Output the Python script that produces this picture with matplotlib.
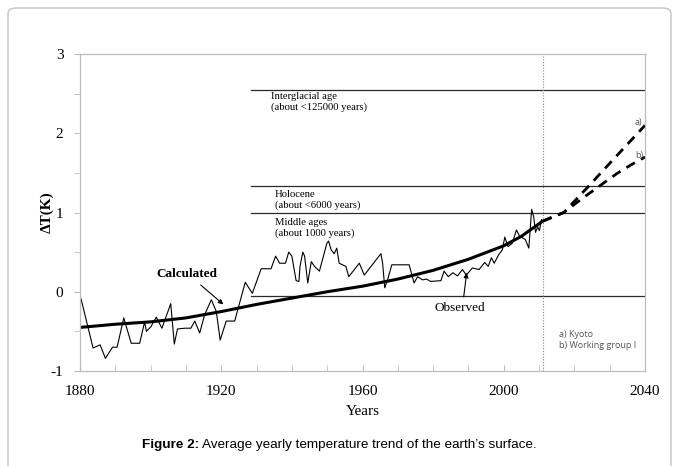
import matplotlib
matplotlib.use('Agg')
import matplotlib.pyplot as plt
from matplotlib.patches import FancyBboxPatch
from matplotlib.ticker import MultipleLocator

plt.rcParams['axes.unicode_minus'] = False

# observed yearly temperature deviation
obs_year = [1880.3, 1883.7, 1885.7, 1887.2, 1889.2, 1890.5, 1892.4, 1894.5, 1896.9, 1898.3,
            1898.8, 1900.1, 1901.6, 1903.2, 1905.7, 1906.7, 1907.6, 1909.7, 1911.4, 1912.5,
            1913.9, 1915.3, 1917.2, 1918.6, 1919.7, 1921.4, 1923.8, 1926.8, 1928.8, 1931.3,
            1934.1, 1935.4, 1936.5, 1938.2, 1939.1, 1940.0, 1941.2, 1942.0, 1942.3, 1943.1,
            1943.6, 1944.5, 1945.5, 1946.4, 1947.8, 1949.9, 1950.4, 1951.1, 1952.0, 1952.7,
            1953.4, 1955.3, 1956.1, 1959.1, 1960.5, 1965.2, 1965.7, 1966.3, 1967.1, 1968.3,
            1973.2, 1973.7, 1974.6, 1975.6, 1977.0, 1978.1, 1979.3, 1982.2, 1983.1, 1984.3,
            1985.6, 1986.9, 1988.3, 1989.4, 1991.1, 1993.0, 1994.6, 1995.6, 1996.5, 1997.3,
            1998.6, 1999.6, 2000.3, 2001.2, 2002.4, 2003.6, 2004.5, 2006.1, 2007.1, 2007.9,
            2008.5, 2009.0, 2009.6, 2010.1, 2010.7]
obs_val = [-0.09, -0.71, -0.67, -0.84, -0.70, -0.70, -0.33, -0.65, -0.65, -0.38,
           -0.50, -0.44, -0.32, -0.46, -0.15, -0.66, -0.47, -0.46, -0.46, -0.37,
           -0.52, -0.29, -0.10, -0.25, -0.61, -0.37, -0.37, 0.12, -0.02, 0.29,
           0.29, 0.45, 0.36, 0.36, 0.50, 0.45, 0.14, 0.13, 0.32, 0.50,
           0.45, 0.11, 0.38, 0.32, 0.26, 0.61, 0.64, 0.53, 0.48, 0.55,
           0.36, 0.32, 0.19, 0.36, 0.21, 0.48, 0.36, 0.05, 0.15, 0.34,
           0.34, 0.26, 0.11, 0.19, 0.15, 0.16, 0.13, 0.14, 0.26, 0.19,
           0.24, 0.20, 0.28, 0.21, 0.30, 0.28, 0.37, 0.32, 0.43, 0.36,
           0.47, 0.53, 0.69, 0.57, 0.61, 0.78, 0.70, 0.66, 0.55, 1.04,
           0.94, 0.75, 0.82, 0.77, 0.91]

# calculated trend
calc_year = [1880, 1890, 1900, 1910, 1920, 1930, 1940, 1950, 1960, 1970, 1980, 1990, 2000, 2005, 2011]
calc_val = [-0.45, -0.41, -0.38, -0.33, -0.25, -0.16, -0.08, 0.0, 0.07, 0.16, 0.27, 0.41, 0.58, 0.70, 0.89]

# projections a) Kyoto, b) Working group I
proj_year_a = [2011, 2017, 2024, 2030, 2035, 2040]
proj_val_a = [0.89, 1.0, 1.33, 1.62, 1.86, 2.10]
proj_year_b = [2011, 2017, 2022, 2027, 2032, 2036, 2040]
proj_val_b = [0.89, 1.0, 1.17, 1.33, 1.49, 1.60, 1.70]

# reference levels
levels = [2.55, 1.33, 1.0, -0.05]
level_start = 1928.5
today = 2011

serif = 'Liberation Serif'

fig = plt.figure(figsize=(6.79, 4.66), dpi=100)
fig.patch.set_facecolor('white')

# outer frame of the figure box
frame = FancyBboxPatch((8 / 679, -0.05), 663 / 679, 1 - 8 / 466 + 0.05,
                       boxstyle='round,pad=0,rounding_size=0.012',
                       transform=fig.transFigure, facecolor='none',
                       edgecolor='#c4c4c4', lw=1.0)
fig.patches.append(frame)

ax = fig.add_axes([80 / 679, 1 - 371 / 466, 565 / 679, 317 / 466])
ax.set_xlim(1880, 2040)
ax.set_ylim(-1, 3)

for lv in levels:
    ax.plot([level_start, 2040], [lv, lv], color='#2a2a2a', lw=0.9)
ax.axvline(today, color='#888888', lw=0.8, ls=(0, (1, 1.5)))

ax.plot(obs_year, obs_val, color='black', lw=0.8)
ax.plot(calc_year, calc_val, color='black', lw=2.2, solid_capstyle='butt')
ax.plot(proj_year_a, proj_val_a, color='black', lw=2.0, ls=(0, (3.5, 2.5)))
ax.plot(proj_year_b, proj_val_b, color='black', lw=2.0, ls=(0, (3.5, 2.5)))

# spines / ticks
for sp in ax.spines.values():
    sp.set_color('#bdbdbd')
    sp.set_linewidth(0.9)
ax.xaxis.set_major_locator(MultipleLocator(40))
ax.xaxis.set_minor_locator(MultipleLocator(10))
ax.yaxis.set_major_locator(MultipleLocator(1))
ax.yaxis.set_minor_locator(MultipleLocator(0.5))
ax.tick_params(axis='x', which='both', direction='in', length=4, color='#bdbdbd', pad=10)
ax.tick_params(axis='y', which='both', direction='out', length=4, color='#bdbdbd', pad=8)
for lab in ax.get_xticklabels() + ax.get_yticklabels():
    lab.set_fontfamily(serif)
    lab.set_fontsize(11)

ax.set_xlabel('Years', fontfamily=serif, fontsize=11, labelpad=5)
ax.set_ylabel('ΔT(K)', fontfamily=serif, fontsize=11, fontweight='bold', labelpad=-2)

# annotations
ax.text(1934.1, 2.40, 'Interglacial age\n(about <125000 years)', fontfamily=serif,
        fontsize=7.7, va='center', ha='left', linespacing=1.2)
ax.text(1935.1, 1.16, 'Holocene\n(about <6000 years)', fontfamily=serif,
        fontsize=7.7, va='center', ha='left', linespacing=1.2)
ax.text(1935.1, 0.80, 'Middle ages\n(about 1000 years)', fontfamily=serif,
        fontsize=7.7, va='center', ha='left', linespacing=1.2)

ax.annotate('Calculated', xy=(1920.6, -0.16), xytext=(1910.4, 0.23),
            fontfamily=serif, fontsize=9.5, fontweight='bold', ha='center', va='center',
            arrowprops=dict(arrowstyle='-|>', color='black', lw=0.8,
                            mutation_scale=7, shrinkA=3, shrinkB=0))
ax.annotate('Observed', xy=(1989.5, 0.24), xytext=(1987.6, -0.21),
            fontfamily=serif, fontsize=9.5, ha='center', va='center',
            arrowprops=dict(arrowstyle='-|>', color='black', lw=0.8,
                            mutation_scale=7, shrinkA=2, shrinkB=0,
                            connectionstyle='arc3,rad=0', relpos=(0.56, 1.0)))

ax.text(2039.3, 2.13, 'a)', fontfamily='Open Sans', fontsize=6.5, color='#555555',
        ha='right', va='center')
ax.text(2039.6, 1.72, 'b)', fontfamily='Open Sans', fontsize=6.5, color='#555555',
        ha='right', va='center')
ax.text(2015.6, -0.61, 'a) Kyoto\nb) Working group I', fontfamily='Open Sans',
        fontsize=6.5, color='#555555', ha='left', va='center', linespacing=1.4)

# caption, bold lead-in + regular text, centred together
cap_y = 1 - 445 / 466
cap1 = fig.text(0.5, cap_y, 'Figure 2:', fontfamily='Liberation Sans', fontsize=9.7,
                fontweight='bold', ha='right', va='center')
cap2 = fig.text(0.5, cap_y, ' Average yearly temperature trend of the earth\u2019s surface.',
                fontfamily='Liberation Sans', fontsize=9.7, ha='left', va='center')

fig.canvas.draw()
r = fig.canvas.get_renderer()
w1 = cap1.get_window_extent(r).width
w2 = cap2.get_window_extent(r).width
split = ((679 - (w1 + w2)) / 2 + w1) / 679
cap1.set_x(split)
cap2.set_x(split)

fig.savefig('out.png', dpi=100)
